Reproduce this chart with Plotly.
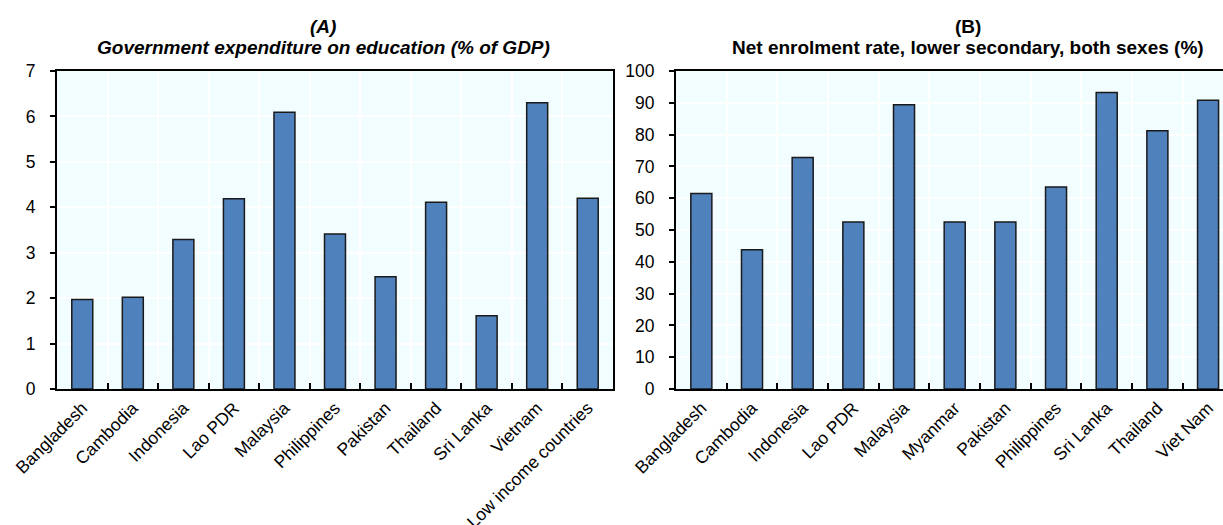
import plotly.graph_objects as go

# Panel A: government expenditure on education (% of GDP)
countries_a = ["Bangladesh", "Cambodia", "Indonesia", "Lao PDR", "Malaysia",
               "Philippines", "Pakistan", "Thailand", "Sri Lanka", "Vietnam",
               "Low income countries"]
spending_a = [1.97, 2.02, 3.29, 4.19, 6.09, 3.41, 2.47, 4.11, 1.61, 6.30, 4.20]

# Panel B: net enrolment rate, lower secondary, both sexes (%)
countries_b = ["Bangladesh", "Cambodia", "Indonesia", "Lao PDR", "Malaysia",
               "Myanmar", "Pakistan", "Philippines", "Sri Lanka", "Thailand",
               "Viet Nam"]
enrolment_b = [61.5, 43.8, 72.8, 52.5, 89.4, 52.5, 52.5, 63.5, 93.2, 81.2, 90.8]

y_ticks_a = [0, 1, 2, 3, 4, 5, 6, 7]
y_ticks_b = [0, 10, 20, 30, 40, 50, 60, 70, 80, 90, 100]

W, H = 1223, 525
BAR = "#4F81BD"
EDGE = "#1a1a1a"
BG = "#F2FDFF"
FONT = "Liberation Sans, Arial, sans-serif"

fig = go.Figure()
fig.add_trace(go.Bar(x=countries_a, y=spending_a, xaxis="x", yaxis="y",
                     marker=dict(color=BAR, line=dict(color=EDGE, width=1.5)),
                     showlegend=False))
fig.add_trace(go.Bar(x=countries_b, y=enrolment_b, xaxis="x2", yaxis="y2",
                     marker=dict(color=BAR, line=dict(color=EDGE, width=1.5)),
                     showlegend=False))

y_dom = [1 - 389 / H, 1 - 71 / H]

common_x = dict(type="category", tickangle=-45, ticks="inside", tickson="boundaries",
                ticklen=6, tickwidth=1.5, tickcolor="black", automargin=False,
                showline=True, linecolor="black", linewidth=2,
                showgrid=True, gridcolor="white", gridwidth=1.5,
                tickfont=dict(family=FONT, size=17.5, color="black"))
common_y = dict(ticks="outside", ticklen=5, tickwidth=1.5, tickcolor="black",
                showline=True, linecolor="black", linewidth=2, automargin=False,
                showgrid=True, gridcolor="white", gridwidth=1.5, zeroline=False,
                ticklabelstandoff=11,
                tickfont=dict(family=FONT, size=17.5, color="black"))

fig.update_layout(
    width=W, height=H, autosize=False,
    margin=dict(l=0, r=0, t=0, b=0, pad=0, autoexpand=False),
    paper_bgcolor="white", plot_bgcolor=BG,
    bargap=0.585,
    font=dict(family=FONT, color="black"),
    xaxis=dict(common_x, domain=[57 / W, 613 / W], anchor="y", mirror=True,
               range=[-0.5, 10.5]),
    yaxis=dict(common_y, domain=y_dom, anchor="x", mirror=True,
               range=[0, 7], tickvals=y_ticks_a),
    xaxis2=dict(common_x, domain=[676 / W, 1.0], anchor="y2", mirror=True,
                range=[-0.5, 10.295]),
    yaxis2=dict(common_y, domain=y_dom, anchor="x2", mirror=False,
                range=[0, 100], tickvals=y_ticks_b),
)

# panel titles
titles = [
    (323, 26, "<b><i>(A)</i></b>"),
    (323, 47, "<b><i>Government expenditure on education (% of GDP)</i></b>"),
    (968, 26, "<b>(B)</b>"),
    (968, 47, "<b>Net enrolment rate, lower secondary, both sexes (%)</b>"),
]
for x, y, txt in titles:
    fig.add_annotation(x=x / W, y=1 - y / H, xref="paper", yref="paper",
                       text=txt, showarrow=False, xanchor="center", yanchor="middle",
                       font=dict(family=FONT, size=19, color="black"))

fig.write_html("out.html")
